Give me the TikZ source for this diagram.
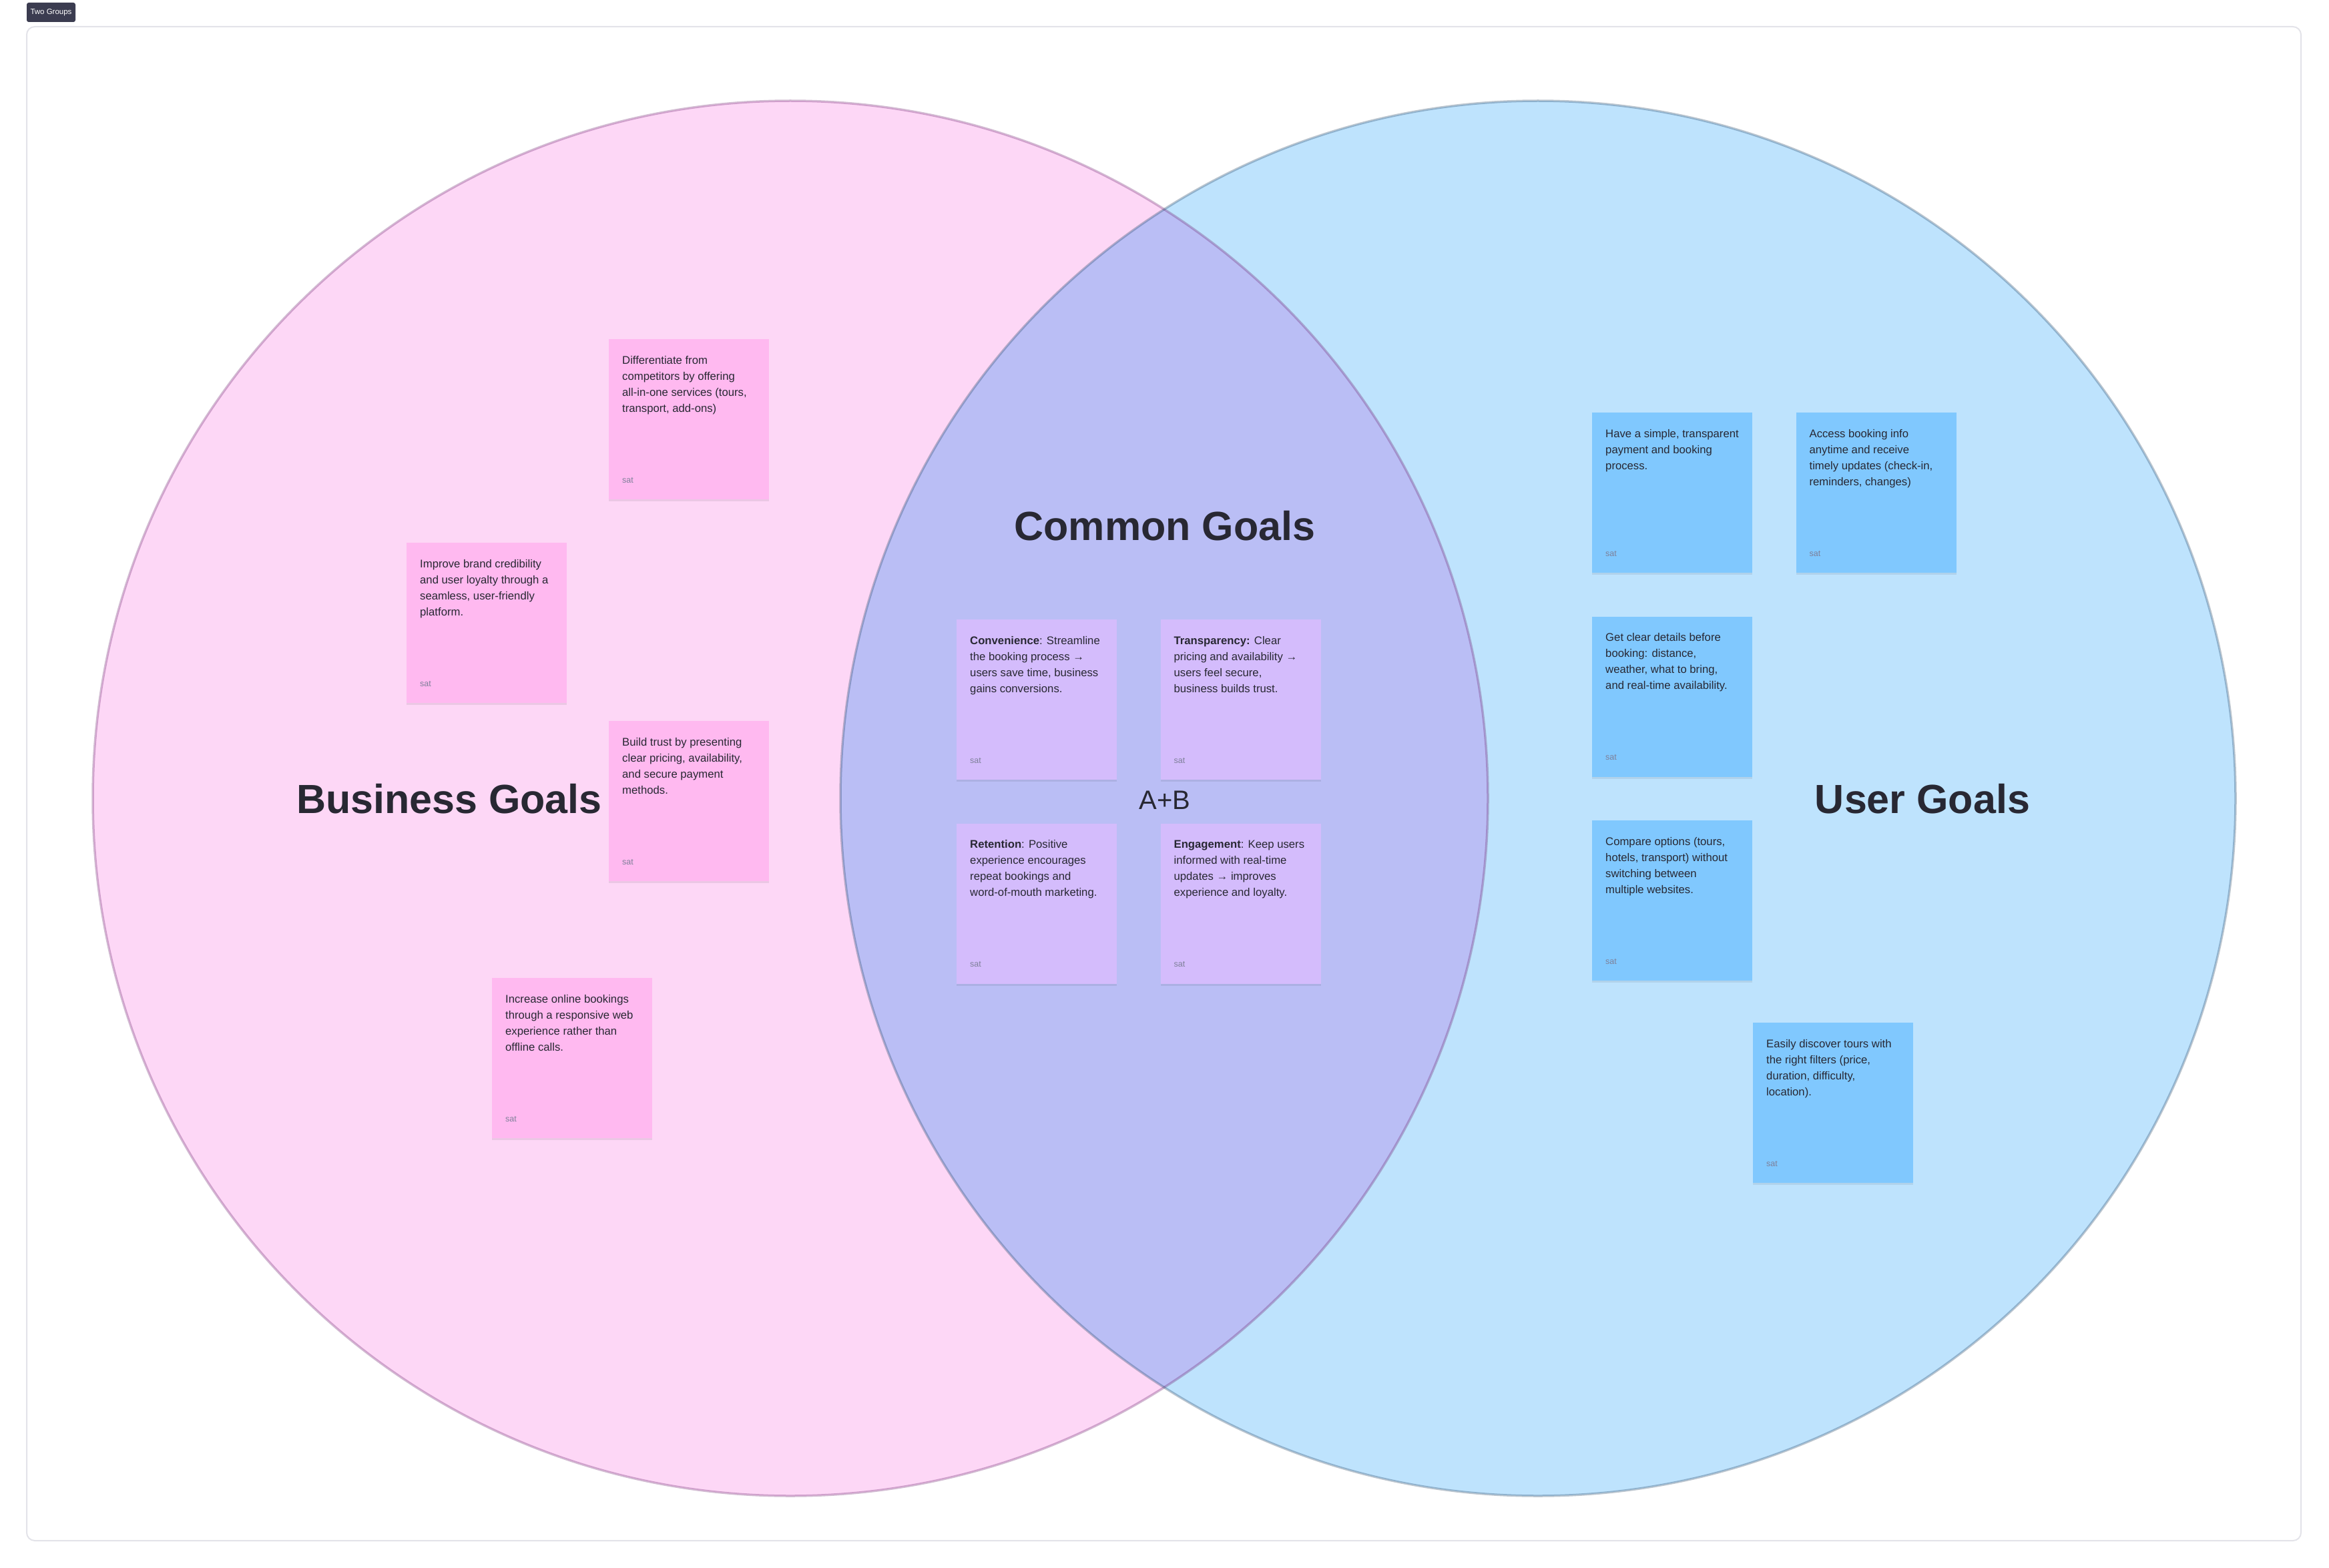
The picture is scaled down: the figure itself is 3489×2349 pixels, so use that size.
\documentclass[tikz,border=0pt]{standalone}
\usepackage{fontspec}
\setmainfont{Liberation Sans}
\usetikzlibrary{positioning,shadows}

\definecolor{bizfill}{HTML}{FDD7F6}
\definecolor{usrfill}{HTML}{BEE3FD}
\definecolor{comfill}{HTML}{BABEF5}
\definecolor{bizline}{HTML}{6B1F6B}
\definecolor{usrline}{HTML}{214060}
\definecolor{pinknote}{HTML}{FFB9F0}
\definecolor{purplenote}{HTML}{D4BCFC}
\definecolor{bluenote}{HTML}{80C8FE}
\definecolor{inkdark}{HTML}{282833}
\definecolor{satgray}{HTML}{7E8099}
\definecolor{framegray}{HTML}{E3E3E9}
\definecolor{tagfill}{HTML}{3B3C50}

% sticky note body: text at the top, author at the bottom
\newcommand{\notestart}{\begin{minipage}[t][200pt][t]{200pt}\raggedright\rule{0pt}{17pt}}
\newcommand{\notestop}{\par\vfill{\color{satgray}\fontsize{12.5}{15}\selectfont sat\rule[-5pt]{0pt}{0pt}}\end{minipage}}

\begin{document}
\begin{tikzpicture}[
    x=1pt,y=-1pt,
    node distance=65pt and 65pt,
    note/.style={anchor=north west,minimum width=240pt,minimum height=240pt,
      inner sep=20pt,text=inkdark,font=\fontsize{16.7}{24}\selectfont,
      drop shadow={shadow xshift=0pt,shadow yshift=-3pt,opacity=0.07,fill=black},
      execute at begin node=\notestart,
      execute at end node=\notestop},
    biznote/.style={note,fill=pinknote},
    comnote/.style={note,fill=purplenote},
    usrnote/.style={note,fill=bluenote},
    title/.style={inner sep=0pt,text=inkdark,font=\fontsize{61}{70}\selectfont\bfseries},
    tagbox/.style={fill=tagfill,text=white,rounded corners=3pt,inner sep=0pt,
      minimum width=73pt,minimum height=29pt,font=\fontsize{11.5}{13}\selectfont}
  ]
    % page and frame
    \fill[white] (0,0) rectangle (3489,2349);
    \useasboundingbox (0,0) rectangle (3489,2349);
    \draw[framegray,line width=2pt,rounded corners=12pt] (40,40) rectangle (3447,2308);
    \node[tagbox] (tag) at (76.5,18.5) {Two Groups};

    % the two circles
    \coordinate (bizc) at (1184,1196);
    \coordinate (usrc) at (2304,1196);
    \fill[bizfill] (bizc) circle[radius=1045pt];
    \fill[usrfill] (usrc) circle[radius=1045pt];
    \begin{scope}
      \clip (bizc) circle[radius=1045pt];
      \fill[comfill] (usrc) circle[radius=1045pt];
    \end{scope}
    \draw[bizline,draw opacity=0.3,line width=3.5pt] (bizc) circle[radius=1045pt];
    \draw[usrline,draw opacity=0.3,line width=3.5pt] (usrc) circle[radius=1045pt];

    % titles
    \node[title] (biztitle) at (673,1197) {Business Goals};
    \node[title] (comtitle) at (1745,788) {Common Goals};
    \node[title] (usrtitle) at (2880,1197) {User Goals};
    \node[inner sep=0pt,text=inkdark,font=\fontsize{40}{48}\selectfont] (ab) at (1745,1199) {A+B};

    % business notes
    \node[biznote] (diff) at (912,508) {Differentiate from\\competitors by offering\\all-in-one services (tours,\\transport, add-ons)};
    \node[biznote] (impr) at (609,813) {Improve brand credibility\\and user loyalty through a\\seamless, user-friendly\\platform.};
    \node[biznote] (build) at (912,1080) {Build trust by presenting\\clear pricing, availability,\\and secure payment\\methods.};
    \node[biznote] (incr) at (737,1465) {Increase online bookings\\through a responsive web\\experience rather than\\offline calls.};

    % common notes
    \node[comnote] (conv) at (1433,928) {\textbf{Convenience}: Streamline\\the booking process → \\users save time, business\\gains conversions.};
    \node[comnote,right=of conv] (trans) {\textbf{Transparency:} Clear\\pricing and availability → \\users feel secure,\\business builds trust.};
    \node[comnote,below=of conv] (ret) {\textbf{Retention}: Positive\\experience encourages\\repeat bookings and\\word-of-mouth marketing.};
    \node[comnote,right=of ret] (eng) {\textbf{Engagement}: Keep users\\informed with real-time\\updates → improves\\experience and loyalty.};

    % user notes
    \node[usrnote] (have) at (2385,618) {Have a simple, transparent\\payment and booking\\process.};
    \node[usrnote,right=of have] (acc) {Access booking info\\anytime and receive\\timely updates (check-in,\\reminders, changes)};
    \node[usrnote,below=of have] (get) {Get clear details before\\booking: distance,\\weather, what to bring,\\and real-time availability.};
    \node[usrnote,below=of get] (comp) {Compare options (tours,\\hotels, transport) without\\switching between\\multiple websites.};
    \node[usrnote] (easy) at (2626,1532) {Easily discover tours with\\the right filters (price,\\duration, difficulty,\\location).};
  \end{tikzpicture}
\end{document}
